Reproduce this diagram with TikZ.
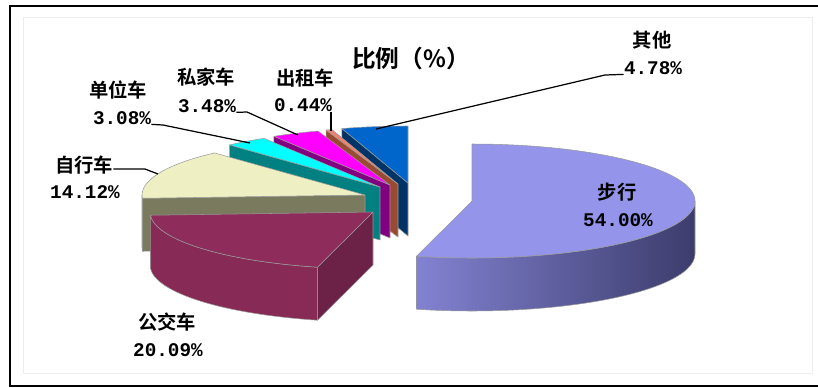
\documentclass[tikz,border=0pt]{standalone}
\usepackage{fontspec}
\setmonofont{Liberation Mono}
\newfontfamily\cjk{Noto Sans CJK SC Bold}
\usetikzlibrary{calc}
\definecolor{walkTop}{HTML}{9494EA}
\definecolor{walkL}{HTML}{8282D2}
\definecolor{walkR}{HTML}{3C3C6C}
\definecolor{busTop}{HTML}{8E2D5B}
\definecolor{busSide}{HTML}{872A55}
\definecolor{busCut}{HTML}{6C2146}
\definecolor{bikeTop}{HTML}{EFEFC4}
\definecolor{bikeSide}{HTML}{7A7A5E}
\definecolor{unitTop}{HTML}{00FFFF}
\definecolor{unitSide}{HTML}{008080}
\definecolor{carTop}{HTML}{FF00FF}
\definecolor{carSide}{HTML}{800080}
\definecolor{taxiTop}{HTML}{F08070}
\definecolor{taxiSide}{HTML}{9A4A30}
\definecolor{otherTop}{HTML}{0066CC}
\definecolor{otherSide}{HTML}{003366}
\tikzset{
  pie/.style={x radius=223, y radius=57},
  face/.style={draw=black!40, line width=0.3pt, line join=round},
  lbl/.style={font=\cjk\fontsize{11}{13}\selectfont, inner sep=0pt},
  pct/.style={font=\ttfamily\bfseries\fontsize{11}{13}\selectfont, inner sep=0pt},
  ttl/.style={font=\cjk\fontsize{13.5}{16}\selectfont, inner sep=0pt},
  lead/.style={line width=0.7pt},
}
\begin{document}
\begin{tikzpicture}[x=0.02cm,y=0.02cm]
	\useasboundingbox (0,0) rectangle (818,387);
	\draw[black!7] (23,14) rectangle (812,370);% plot area
	\draw[line width=1.1pt] (818,381) -- (10,381) -- (10,1) -- (818,1);% frame

		\coordinate (cWalk)  at (472,186);
		\coordinate (cBus)   at (373,175);
		\coordinate (cBike)  at (365,192);
		\coordinate (cUnit)  at (380,200);
		\coordinate (cCar)   at (390,202);
		\coordinate (cTaxi)  at (398,203);
		\coordinate (cOther) at (408,204);

		% small slices, back to front
		\foreach \c/\a/\b/\up/\dn in {cOther/107.244/90/otherTop/otherSide,cTaxi/108.828/107.244/taxiTop/taxiSide,cCar/121.356/108.828/carTop/carSide,cUnit/132.444/121.356/unitTop/unitSide}{
			\filldraw[face,fill=\dn] (\c) -- ++(\a:223 and 57) -- ++(0,-53) -- ($(\c)+(0,-53)$) -- cycle;
			\filldraw[face,fill=\up] (\c) -- ++(\a:223 and 57) arc[pie,start angle=\a,end angle=\b] -- cycle;
		}

		% bicycle
		\filldraw[face,fill=bikeSide] (cBike) -- ++(183.276:223 and 57) -- ++(0,-53) -- ($(cBike)+(0,-53)$) -- cycle;
		\filldraw[face,fill=bikeSide] ($(cBike)+(180:223 and 57)$) arc[pie,start angle=180,end angle=183.276] -- ++(0,-53) arc[pie,start angle=183.276,end angle=180] -- cycle;
		\filldraw[face,fill=bikeTop] (cBike) -- ++(183.276:223 and 57) arc[pie,start angle=183.276,end angle=132.444] -- cycle;

		% bus
		\filldraw[face,fill=busSide] ($(cBus)+(-176.724:223 and 57)$) arc[pie,start angle=-176.724,end angle=-104.4] -- ++(0,-53) arc[pie,start angle=-104.4,end angle=-176.724] -- cycle;
		\filldraw[face,fill=busCut] (cBus) -- ++(-104.4:223 and 57) -- ++(0,-53) -- ($(cBus)+(0,-53)$) -- cycle;
		\filldraw[face,fill=busTop] (cBus) -- ++(-104.4:223 and 57) arc[pie,start angle=-104.4,end angle=-176.724] -- cycle;

		% walking
		\path[face,left color=walkL,right color=walkR] ($(cWalk)+(-104.4:223 and 57)$) arc[pie,start angle=-104.4,end angle=0] -- ++(0,-53) arc[pie,start angle=0,end angle=-104.4] -- cycle;
		\filldraw[face,fill=walkTop] (cWalk) -- ++(90:223 and 57) arc[pie,start angle=90,end angle=-104.4] -- cycle;

		% labels
		\node[ttl] (title) at (411,329) {比例（\%）};
		\node[lbl] (nOther) at (652,347) {其他};
		\node[pct] (vOther) at (653,319) {4.78\%};
		\node[lbl] (nTaxi) at (305,309) {出租车};
		\node[pct] (vTaxi) at (303,282) {0.44\%};
		\node[lbl] (nCar) at (206,310) {私家车};
		\node[pct] (vCar) at (207,281) {3.48\%};
		\node[lbl] (nUnit) at (118,297) {单位车};
		\node[pct] (vUnit) at (122,269) {3.08\%};
		\node[lbl] (nBike) at (84,222) {自行车};
		\node[pct] (vBike) at (85,195) {14.12\%};
		\node[lbl] (nBus) at (167,65) {公交车};
		\node[pct] (vBus) at (168,37) {20.09\%};
		\node[lbl] (nWalk) at (617,195) {步行};
		\node[pct] (vWalk) at (618,167) {54.00\%};

		% leaders
		\coordinate (tOther) at (376,258);
		\coordinate (kOther) at (605,312);
		\coordinate (tTaxi) at (331,256);
		\coordinate (tCar) at (298,252);
		\coordinate (kCar) at (247,275);
		\coordinate (tUnit) at (250,244);
		\coordinate (kUnit) at (163,262);
		\coordinate (tBike) at (158,213);
		\coordinate (kBike) at (145,218);
		\draw[lead] (tOther) -- (kOther) -- (vOther.base west);
		\draw[lead] (tTaxi) -- (tTaxi |- vTaxi.south);
		\draw[lead] (vCar.base east) -- (kCar) -- (tCar);
		\draw[lead] (vUnit.base east) -- (kUnit) -- (tUnit);
		\draw[lead] (nBike.east |- kBike) -- (kBike) -- (tBike);
\end{tikzpicture}
\end{document}
